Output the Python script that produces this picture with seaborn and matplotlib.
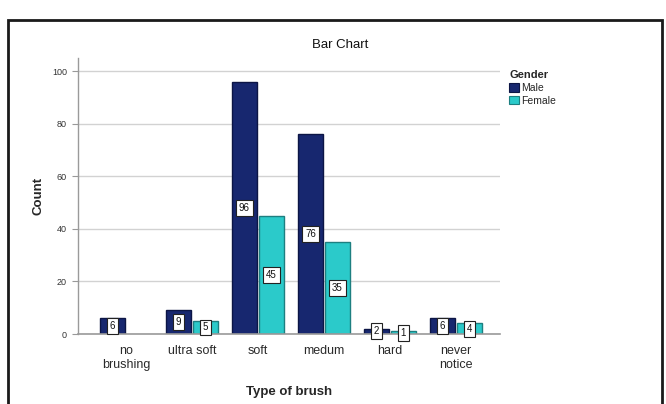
import matplotlib
matplotlib.use("Agg")
import matplotlib.pyplot as plt
from matplotlib.patches import Rectangle, Patch
import seaborn as sns
import pandas as pd

# Counts of brush type by gender
categories = ["no\nbrushing", "ultra soft", "soft", "medum", "hard", "never\nnotice"]
male_counts = [6, 9, 96, 76, 2, 6]
female_counts = [0, 5, 45, 35, 1, 4]
genders = ["Male", "Female"]
y_ticks = [0, 20, 40, 60, 80, 100]

sns.set_theme(style="white")
plt.rcParams["font.family"] = ["Liberation Sans", "DejaVu Sans"]

rows = []
for cat, m, f in zip(categories, male_counts, female_counts):
    rows.append({"brush": cat, "Gender": "Male", "Count": m})
    rows.append({"brush": cat, "Gender": "Female", "Count": f})
df = pd.DataFrame(rows)
plot_df = df[df["Count"] > 0]

palette = {"Male": "#17276f", "Female": "#2bcaca"}
edges = {"Male": "#0c1545", "Female": "#1d7f80"}

fig = plt.figure(figsize=(6.66, 4.04), dpi=100)
ax = fig.add_axes([78 / 666, 70 / 404, 422 / 666, 276 / 404])

sns.barplot(data=plot_df, x="brush", y="Count", hue="Gender",
            order=categories, hue_order=genders, palette=palette,
            width=0.82, gap=0.08, ax=ax, legend=False, errorbar=None,
            linewidth=1.0, saturation=1)

for container, g in zip(ax.containers, genders):
    for bar in container:
        bar.set_edgecolor(edges[g])
    ax.bar_label(container, label_type="center", fontsize=7,
                 color="#111111",
                 bbox=dict(boxstyle="square,pad=0.3", fc="white",
                           ec="#222222", lw=0.8))

ax.set_ylim(0, 105)
ax.set_xlim(-0.73, 5.67)
ax.set_yticks(y_ticks)
ax.set_yticklabels([str(t) for t in y_ticks], fontsize=6.5, color="#333333")
ax.tick_params(axis="y", length=4, width=0.8, color="#999999", left=True, pad=4)
ax.tick_params(axis="x", length=0, labelsize=9, labelcolor="#2a2a2a", pad=8)
ax.yaxis.grid(True, color="#d2d2d2", lw=1.0)
ax.set_axisbelow(True)
for s in ["top", "right"]:
    ax.spines[s].set_visible(False)
ax.spines["left"].set_color("#9a9a9a")
ax.spines["bottom"].set_color("#9a9a9a")
ax.spines["left"].set_linewidth(1.0)
ax.spines["bottom"].set_linewidth(1.2)

ax.set_xlabel("Type of brush", fontsize=9.5, fontweight="bold", labelpad=11)
ax.set_ylabel("Count", fontsize=9.5, fontweight="bold", labelpad=5)

fig.text(340 / 666, 1 - 45 / 404, "Bar Chart", ha="center", va="center",
         fontsize=9.5, color="#111111")

handles = [Patch(facecolor=palette[g], edgecolor=edges[g], lw=0.8) for g in genders]
leg = fig.legend(handles, genders, title="Gender", loc="upper left",
                 bbox_to_anchor=(500 / 666, 1 - 61 / 404), frameon=False,
                 fontsize=7.5, handlelength=0.9, handleheight=0.9,
                 handletextpad=0.2, labelspacing=0.25, alignment="left",
                 title_fontproperties={"weight": "bold", "size": 8})

fig.add_artist(Rectangle((8 / 666, -0.1), 654 / 666, 1.075 - 10 / 404,
                         transform=fig.transFigure, fill=False,
                         lw=2.0, ec="#1a1a1a"))

fig.savefig("out.png", dpi=100)
